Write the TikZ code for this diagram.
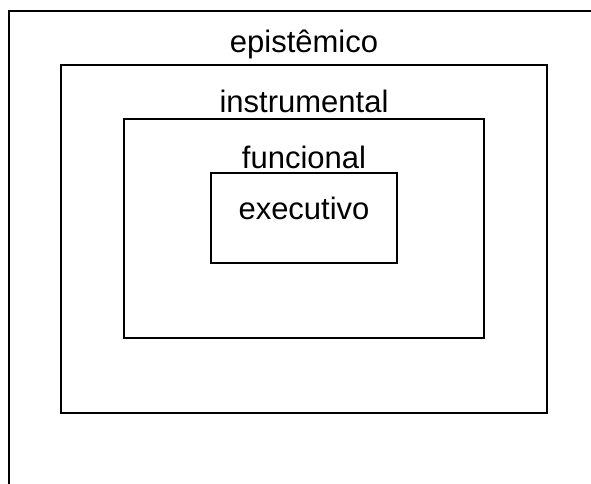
\documentclass[tikz,border=0pt]{standalone}
\usepackage{fontspec}
\setmainfont{Liberation Sans}
\begin{document}
\begin{tikzpicture}[x=1pt,y=-1pt,line width=2pt,
  layer/.style={draw,inner sep=0pt,outer sep=0pt},
  lbl/.style={font=\fontsize{31pt}{37pt}\selectfont,inner sep=0pt,anchor=base}]
  \useasboundingbox (0,0) rectangle (591,484);
  % outer frame, only top and left edge shown
  \coordinate (frametl) at (9,11);
  \coordinate (frametr) at (591,11);
  \coordinate (framebl) at (9,484);
  \draw (framebl) -- (frametl) -- (frametr);
  % nested layers
  \node[layer,minimum width=486pt,minimum height=348pt] (epi) at (304,239) {};
  \node[layer,minimum width=360pt,minimum height=219pt] (instr) at (304,228.5) {};
  \node[layer,minimum width=186pt,minimum height=90pt] (exec) at (304,218) {};
  % labels
  \node[lbl] (lepi) at ([yshift=12pt]epi.north) {epistêmico};
  \node[lbl] (linstr) at ([yshift=6pt]instr.north) {instrumental};
  \node[lbl] (lfunc) at ([yshift=5pt]exec.north) {funcional};
  \node[lbl] (lexec) at ([yshift=-46pt]exec.north) {executivo};
\end{tikzpicture}
\end{document}
